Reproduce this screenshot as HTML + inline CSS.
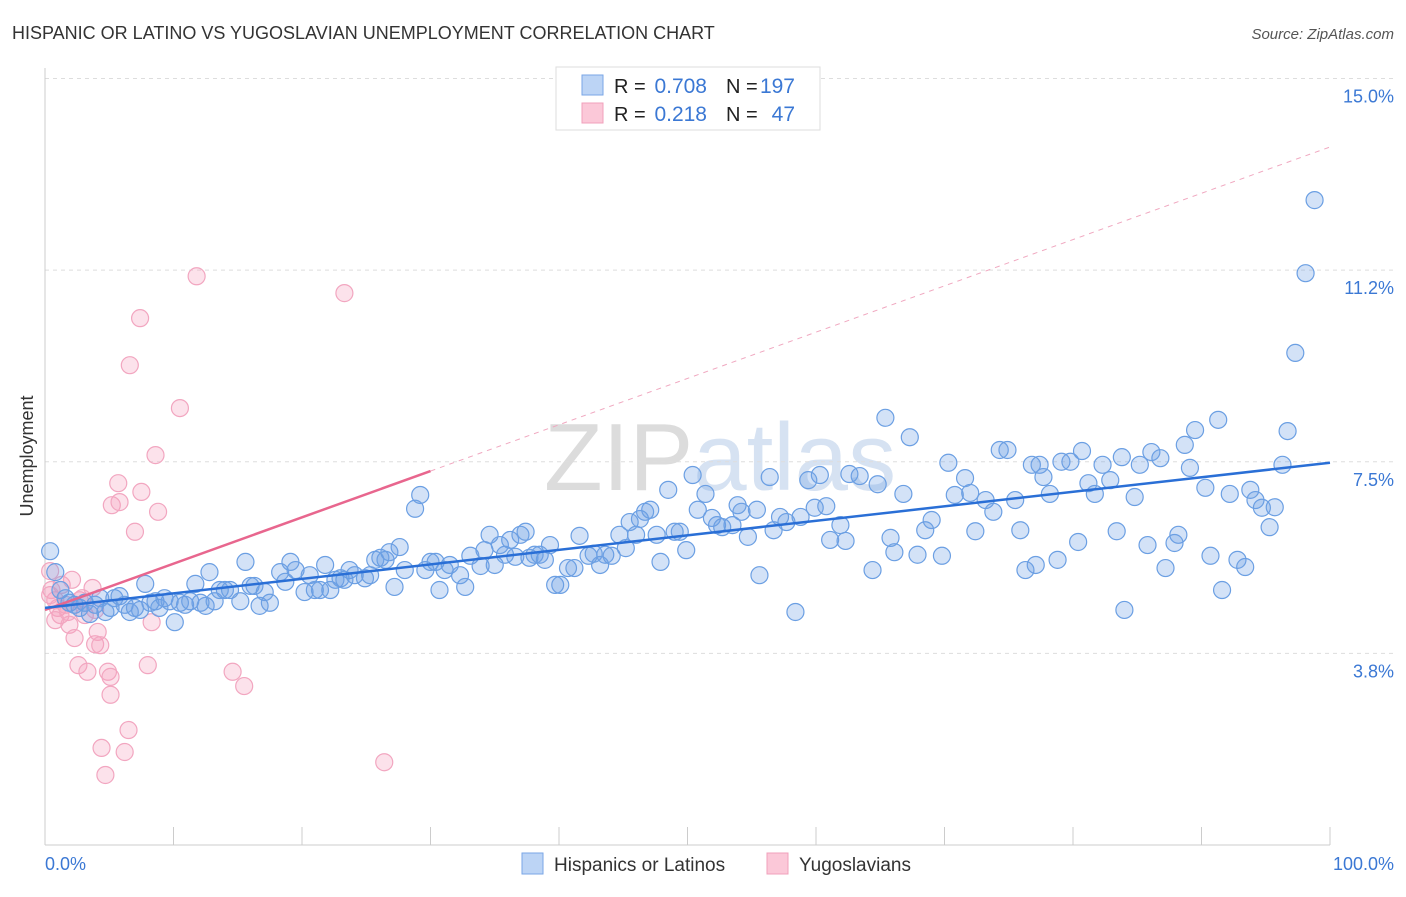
<!DOCTYPE html>
<html><head><meta charset="utf-8"><style>
body{margin:0;background:#fff;font-family:"Liberation Sans",sans-serif;}
svg text{font-family:"Liberation Sans",sans-serif;}
</style></head><body>
<svg id="chart" width="1406" height="892" xmlns="http://www.w3.org/2000/svg">
<text x="12" y="39" font-size="18" fill="#333">HISPANIC OR LATINO VS YUGOSLAVIAN UNEMPLOYMENT CORRELATION CHART</text>
<text x="1394" y="39" font-size="15" fill="#555" text-anchor="end" font-style="italic">Source: ZipAtlas.com</text>
<text x="720" y="490" font-size="96" fill="#e4e4e4" text-anchor="middle" font-family="Liberation Serif"><tspan fill="#dcdcdc">ZIP</tspan><tspan fill="#d6e2f2" font-family="Liberation Sans">atlas</tspan></text>
<g id="grid"></g><g id="axes"></g><g id="pinkpts"></g><g id="bluepts"></g><g id="trends"></g>
<text transform="translate(33,456) rotate(-90)" font-size="18" fill="#333" text-anchor="middle">Unemployment</text>
<text x="45" y="870" font-size="18" fill="#3b78d4">0.0%</text>
<text x="1394" y="870" font-size="18" fill="#3b78d4" text-anchor="end">100.0%</text>
<g>
<rect x="556" y="67" width="264" height="63" fill="#fff" stroke="#ddd"/>
<rect x="582" y="75" width="21" height="20" fill="#bcd4f5" stroke="#7aa6e6"/>
<rect x="582" y="103" width="21" height="20" fill="#fbc8d8" stroke="#f0a0bb"/>
<text x="614" y="93" font-size="20" fill="#222">R =</text>
<text x="707" y="93" font-size="21" fill="#3b78d4" text-anchor="end">0.708</text>
<text x="726" y="93" font-size="20" fill="#222">N =</text>
<text x="795" y="93" font-size="21" fill="#3b78d4" text-anchor="end">197</text>
<text x="614" y="121" font-size="20" fill="#222">R =</text>
<text x="707" y="121" font-size="21" fill="#3b78d4" text-anchor="end">0.218</text>
<text x="726" y="121" font-size="20" fill="#222">N =</text>
<text x="795" y="121" font-size="21" fill="#3b78d4" text-anchor="end">47</text>
</g>
<g>
<rect x="522" y="853" width="21" height="21" fill="#bcd4f5" stroke="#7aa6e6"/>
<text x="554" y="871" font-size="19" fill="#333">Hispanics or Latinos</text>
<rect x="767" y="853" width="21" height="21" fill="#fbc8d8" stroke="#f0a0bb"/>
<text x="799" y="871" font-size="19" fill="#333">Yugoslavians</text>
</g>
</svg>
<script>
const yTicks=[3.75,7.5,11.25,15];
const yTickLabels=["3.8%","7.5%","11.2%","15.0%"];
const xTicks=[0,10,20,30,40,50,60,70,80,90,100];
const blueX=[98.8,98.1,97.3,96.7,96.3,95.3,95.7,94.7,94.2,93.8,92.2,91.6,91.3,93.4,92.8,90.7,90.3,89.5,89.1,88.7,88.2,87.9,87.2,86.8,86.1,85.8,85.2,84.8,84.0,83.8,83.4,82.9,82.3,81.7,81.2,80.7,80.4,79.8,79.1,78.8,78.2,77.7,77.4,76.8,77.1,76.3,75.9,75.5,74.9,74.3,73.8,73.2,72.4,72.0,71.6,70.8,70.3,69.8,69.0,68.5,67.9,67.3,66.8,66.1,65.8,65.4,64.8,64.4,63.4,62.6,62.3,61.9,61.1,60.8,60.3,59.9,59.4,58.8,58.4,57.7,57.2,56.7,56.4,55.6,55.4,54.7,54.2,53.9,53.5,52.7,52.3,51.9,51.4,50.8,50.4,49.9,49.4,49.0,48.5,47.9,47.6,47.1,46.7,46.3,46.0,45.5,45.2,44.7,44.1,43.6,43.2,42.7,42.3,41.6,41.2,40.7,40.1,
0.4,0.8,1.2,1.6,1.9,2.3,2.7,3.1,3.5,3.9,4.3,4.7,5.1,5.4,5.8,6.2,6.6,7.0,7.4,7.8,8.2,8.6,8.9,9.3,9.7,10.1,10.5,10.9,11.3,11.7,12.1,12.5,12.8,13.2,13.6,14.0,14.4,15.2,15.6,16.0,16.3,16.7,17.1,17.5,18.3,18.7,19.1,19.5,20.2,20.6,21.0,21.4,21.8,22.2,22.6,23.0,23.3,23.7,24.1,24.9,25.3,25.7,26.1,26.5,26.8,27.2,27.6,28.0,28.8,29.2,29.6,30.0,30.4,30.7,31.1,31.5,32.3,32.7,33.1,33.9,34.2,34.6,35.0,35.4,35.8,36.2,36.6,37.0,37.4,37.7,38.1,38.5,38.9,39.3,39.7];
const blueY=[12.62,11.19,9.63,8.10,7.44,6.22,6.61,6.60,6.75,6.95,6.87,4.99,8.32,5.44,5.58,5.66,6.99,8.12,7.38,7.83,6.07,5.91,5.42,7.57,7.69,5.87,7.44,6.81,4.60,7.59,6.14,7.14,7.44,6.87,7.08,7.71,5.93,7.50,7.50,5.58,6.87,7.20,7.44,7.44,5.48,5.38,6.16,6.75,7.73,7.73,6.52,6.75,6.14,6.89,7.18,6.85,7.48,5.66,6.36,6.16,5.68,7.98,6.87,5.73,6.01,8.36,7.06,5.38,7.22,7.26,5.95,6.26,5.97,6.63,7.24,6.60,7.14,6.42,4.56,6.32,6.42,6.16,7.20,5.28,6.56,6.03,6.52,6.65,6.26,6.22,6.26,6.40,6.87,6.56,7.24,5.77,6.13,6.13,6.95,5.54,6.07,6.56,6.52,6.38,6.07,6.32,5.81,6.07,5.66,5.68,5.48,5.70,5.66,6.05,5.42,5.42,5.09,
5.75,5.34,4.99,4.83,4.74,4.70,4.64,4.74,4.52,4.70,4.83,4.56,4.64,4.83,4.87,4.70,4.56,4.64,4.60,5.11,4.74,4.77,4.64,4.83,4.77,4.36,4.74,4.70,4.77,5.11,4.74,4.68,5.34,4.77,4.99,4.99,4.99,4.77,5.54,5.07,5.07,4.68,4.95,4.74,5.34,5.15,5.54,5.38,4.95,5.28,4.99,4.99,5.48,4.99,5.19,5.22,5.19,5.38,5.28,5.22,5.28,5.58,5.62,5.58,5.73,5.05,5.83,5.38,6.58,6.85,5.38,5.54,5.54,4.99,5.38,5.48,5.28,5.05,5.66,5.46,5.77,6.07,5.48,5.87,5.68,5.97,5.64,6.07,6.13,5.62,5.68,5.68,5.58,5.87,5.09];
const pinkX=[0.4,0.5,0.8,1.0,1.2,1.3,1.6,1.8,1.9,2.1,2.3,2.6,2.7,2.9,3.1,3.3,3.7,3.9,4.1,4.3,4.4,4.7,4.9,5.1,5.2,5.7,5.8,6.2,6.5,6.6,7.0,7.4,7.5,8.0,8.3,8.6,8.8,10.5,11.8,14.6,15.5,23.3,26.4,0.4,0.8,3.9,5.1];
const pinkY=[5.36,4.99,4.79,4.64,4.50,5.09,4.70,4.56,4.31,5.19,4.05,3.52,4.79,4.83,4.50,3.39,5.03,3.93,4.17,3.91,1.90,1.37,3.39,2.94,6.65,7.08,6.71,1.82,2.25,9.39,6.13,10.31,6.91,3.52,4.36,7.63,6.52,8.55,11.13,3.39,3.11,10.80,1.62,4.89,4.40,4.60,3.29];
const blueTrend=[4.64,7.48];
const pinkTrend=[4.6,0.0906];
const NS="http://www.w3.org/2000/svg";
const X0=45,X1=1330,YB=845,PPU=51.1;
const sx=v=>X0+(X1-X0)*v/100, sy=v=>YB-v*PPU;
function mk(tag,parent,attrs){const e=document.createElementNS(NS,tag);for(const k in attrs)e.setAttribute(k,attrs[k]);document.getElementById(parent).appendChild(e);return e;}
yTicks.forEach((t,i)=>{
 const l=mk('line','grid',{x1:X0,x2:1394,y1:sy(t),y2:sy(t),stroke:'#ddd','stroke-dasharray':'4,4'});
 
 
 const tx=mk('text','grid',{x:1394,y:sy(t)+24,'font-size':18,fill:'#3b78d4','text-anchor':'end'});
 tx.textContent=yTickLabels[i];
 
 
});
const ax=mk('line','axes',{x1:X0,x2:X0,y1:68,y2:YB,stroke:'#ccc'});


const bx=mk('line','axes',{x1:X0,x2:X1,y1:YB,y2:YB,stroke:'#ccc'});


xTicks.forEach(t=>{const l=mk('line','axes',{x1:sx(t),x2:sx(t),y1:827,y2:YB,stroke:'#ccc'});
 
 });
pinkX.forEach((x,i)=>{const c=mk('circle','pinkpts',{cx:sx(x),cy:sy(pinkY[i]),r:8.5,fill:'rgba(245,160,190,0.3)',stroke:'#f2a6c0','stroke-width':1.2});
 
 });
blueX.forEach((x,i)=>{const c=mk('circle','bluepts',{cx:sx(x),cy:sy(blueY[i]),r:8.5,fill:'rgba(110,160,230,0.3)',stroke:'#6b9fe3','stroke-width':1.2});
 
 });
const pd=mk('line','trends',{x1:sx(30),y1:sy(pinkTrend[0]+30*pinkTrend[1]),x2:sx(100),y2:sy(pinkTrend[0]+100*pinkTrend[1]),stroke:'#f0a8c0','stroke-dasharray':'5,5','stroke-width':1});


const ps=mk('line','trends',{x1:sx(0),y1:sy(pinkTrend[0]),x2:sx(30),y2:sy(pinkTrend[0]+30*pinkTrend[1]),stroke:'#e8668e','stroke-width':2.5});


const bl=mk('line','trends',{x1:sx(0),y1:sy(blueTrend[0]),x2:sx(100),y2:sy(blueTrend[1]),stroke:'#2a6fd6','stroke-width':2.5});


</script>
</body></html>
